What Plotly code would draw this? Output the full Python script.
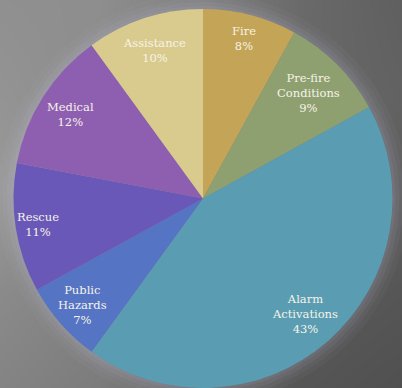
import numpy as np
import plotly.graph_objects as go

# Incident categories and their share of calls (%)
categories = ["Fire", "Pre-fire Conditions", "Alarm Activations", "Public Hazards",
              "Rescue", "Medical", "Assistance"]
shares = [8, 9, 43, 7, 11, 12, 10]
slice_colors = ["#C4A456", "#8FA070", "#5A9DB3", "#5574C4", "#6A58B8", "#8E5EB0", "#D9CB8E"]

W, H = 402, 388
CX, CY, R = 203, 198.5, 189.5        # pie centre / radius in pixels
# label distance from centre for each slice, as a fraction of the radius
label_radius = [0.87, 0.79, 0.81, 0.85, 0.88, 0.83, 0.82]

# grey backdrop tones sampled on a coarse grid, smoothed by the heatmap
bg_x = [-20, 101, 201, 302, 422]
bg_y = [-20, 97, 194, 291, 408]
bg_tone = [
    [143, 142, 128, 106, 92],
    [149, 140, 120, 104, 97],
    [156, 140, 115, 100, 91],
    [140, 130, 105, 90, 85],
    [132, 122, 100, 84, 78],
]

fig = go.Figure()

fig.add_trace(go.Heatmap(
    x=bg_x, y=bg_y, z=bg_tone, zmin=0, zmax=255, zsmooth="best",
    colorscale=[[0, "black"], [1, "white"]], showscale=False, hoverinfo="skip",
))

# soft glow around the pie
t = np.linspace(0, 2 * np.pi, 181)
for extra, op in [(16, 0.04), (11, 0.05), (7, 0.06), (3, 0.07)]:
    fig.add_trace(go.Scatter(
        x=CX + (R + extra) * np.cos(t), y=CY + (R + extra) * np.sin(t),
        mode="lines", fill="toself", line=dict(width=0),
        fillcolor=f"rgba(205,205,235,{op})", hoverinfo="skip", showlegend=False,
    ))

dom_x = [max(0, (CX - R) / W), min(1, (CX + R) / W)]
dom_y = [max(0, (H - CY - R) / H), min(1, (H - CY + R) / H)]
fig.add_trace(go.Pie(
    labels=categories, values=shares, sort=False, direction="clockwise", rotation=0,
    marker=dict(colors=slice_colors, line=dict(width=0)),
    textinfo="none", hoverinfo="label+percent", showlegend=False,
    domain=dict(x=dom_x, y=dom_y),
))

# data labels placed at each slice's mid angle
total = sum(shares)
cum = np.cumsum([0] + shares[:-1])
for name, v, c0, f in zip(categories, shares, cum, label_radius):
    ang = 2 * np.pi * (c0 + v / 2) / total
    fig.add_annotation(
        x=CX + f * R * np.sin(ang), y=CY - f * R * np.cos(ang),
        xref="x", yref="y", showarrow=False,
        text=name.replace(" ", "<br>") + f"<br>{round(100 * v / total)}%",
        font=dict(family="DejaVu Serif", size=11.5, color="#F6F3E8"),
        align="center",
    )

fig.update_xaxes(range=[0, W], visible=False, fixedrange=True)
fig.update_yaxes(range=[H, 0], visible=False, fixedrange=True)
fig.update_layout(
    width=W, height=H, margin=dict(l=0, r=0, t=0, b=0),
    paper_bgcolor="#7a7a7a", plot_bgcolor="#7a7a7a", showlegend=False,
)

fig.write_html("out.html")
